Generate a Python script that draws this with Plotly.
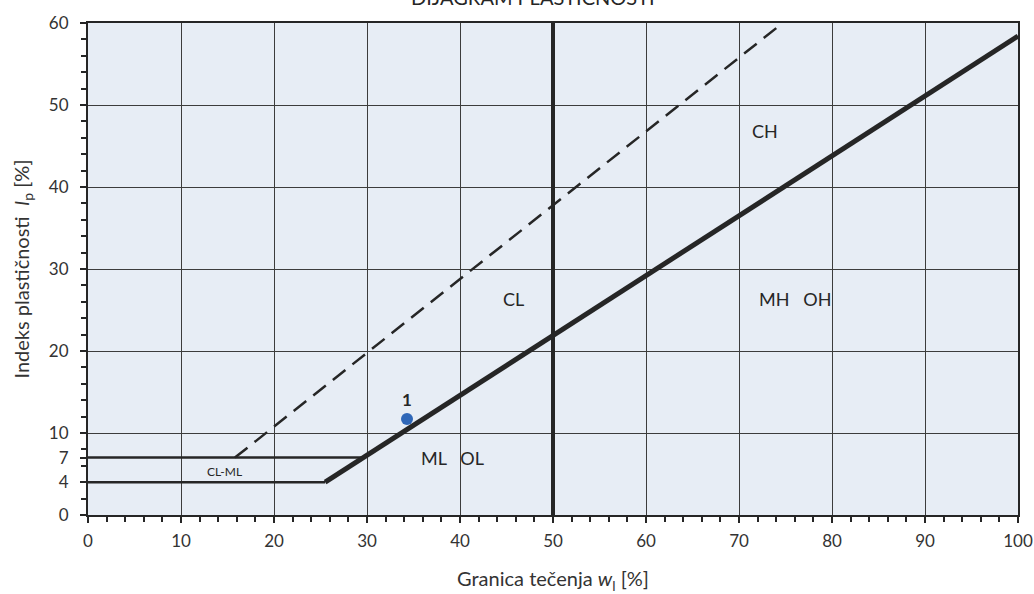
import plotly.graph_objects as go

# Casagrande plasticity chart: liquid limit vs. plasticity index
a_line_wl = [25.5, 100]
a_line_ip = [4, 58.4]
u_line_wl = [15.8, 74.7]
u_line_ip = [7, 60]
low4_wl = [0, 25.5]
low4_ip = [4, 4]
low7_wl = [0, 29.5]
low7_ip = [7, 7]
split_wl = [50, 50]
split_ip = [0, 60]

sample_wl = [34.3]
sample_ip = [11.7]
sample_names = ["1"]

zone_names = ["CH", "CL", "MH   OH", "ML   OL", "CL-ML"]
zone_wl = [72.8, 45.7, 76.0, 39.2, 14.7]
zone_ip = [46.8, 26.3, 26.3, 7.0, 5.3]
zone_sizes = [18, 18, 18, 18, 12]

x_ticks = list(range(0, 101, 10))
y_ticks = [0, 4, 7, 10, 20, 30, 40, 50, 60]

FONT = "Lato"
INK = "#262626"

fig = go.Figure()

for wl, ip, w, dash in [
    (low4_wl, low4_ip, 2.5, "solid"),
    (low7_wl, low7_ip, 2.5, "solid"),
    (u_line_wl, u_line_ip, 2.5, "16px,9px"),
    (split_wl, split_ip, 4, "solid"),
    (a_line_wl, a_line_ip, 5, "solid"),
]:
    fig.add_trace(go.Scatter(x=wl, y=ip, mode="lines",
                             line=dict(color=INK, width=w, dash=dash),
                             hoverinfo="skip", showlegend=False))

fig.add_trace(go.Scatter(x=sample_wl, y=sample_ip, mode="markers+text",
                         marker=dict(color="#2f67b8", size=12),
                         text=sample_names, textposition="top center",
                         textfont=dict(family=FONT, size=17, color=INK,
                                       weight="bold"),
                         showlegend=False))

for name, x, y, s in zip(zone_names, zone_wl, zone_ip, zone_sizes):
    fig.add_annotation(x=x, y=y, text=name, showarrow=False,
                       font=dict(family=FONT, size=s, color=INK))

fig.add_annotation(xref="paper", yref="paper", x=0.478, y=1.024,
                   yanchor="bottom", text="DIJAGRAM PLASTIČNOSTI",
                   showarrow=False,
                   font=dict(family=FONT, size=20, color=INK))

axis_common = dict(showline=True, linecolor=INK, linewidth=2, mirror=True,
                   ticks="outside", ticklen=6, tickwidth=1.5, tickcolor=INK,
                   tickfont=dict(family=FONT, size=17, color="#333333"),
                   zeroline=False, automargin=False)

fig.update_layout(
    width=1034, height=594,
    margin=dict(l=88, r=16, t=23, b=79),
    paper_bgcolor="white",
    plot_bgcolor="#e7edf5",
    xaxis=dict(range=[0, 100], tickvals=x_ticks, showgrid=True,
               gridcolor="#3c3c3c", gridwidth=1, ticklabelstandoff=4,
               minor=dict(dtick=2, ticks="outside", ticklen=5,
                          tickcolor=INK, tickwidth=1.5, showgrid=False),
               title=dict(text="Granica tečenja <i>w</i><sub>l</sub> [%]",
                          font=dict(family=FONT, size=20, color="#333333"),
                          standoff=22),
               **axis_common),
    yaxis=dict(range=[0, 60], tickvals=y_ticks, showgrid=False,
               ticklabelstandoff=8,
               minor=dict(dtick=2, ticks="outside", ticklen=5,
                          tickcolor=INK, tickwidth=1.5, showgrid=False),
               title=dict(text="Indeks plastičnosti  <i>I</i><sub>p</sub> [%]",
                          font=dict(family=FONT, size=20, color="#333333"),
                          standoff=14),
               **axis_common),
    yaxis2=dict(range=[0, 60], overlaying="y", dtick=10, showgrid=True,
                gridcolor="#3c3c3c", gridwidth=1, showticklabels=False,
                ticks="", showline=False, zeroline=False, automargin=False),
)

# empty trace to attach the overlay grid axis
fig.add_trace(go.Scatter(x=[None], y=[None], yaxis="y2", showlegend=False,
                         hoverinfo="skip"))

fig.write_html("out.html")
